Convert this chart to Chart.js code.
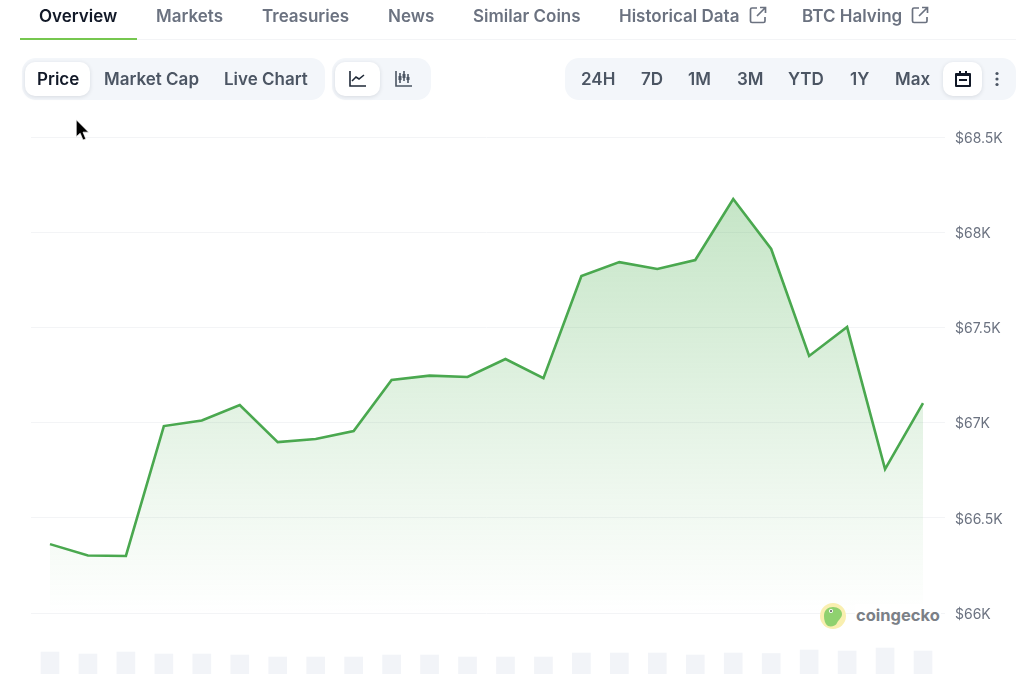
<!DOCTYPE html>
<html>
<head>
<meta charset="utf-8">
<script src="https://cdn.jsdelivr.net/npm/chart.js@4"></script>
<style>
  html, body { margin: 0; padding: 0; background: #fff; overflow: hidden; }
  body { width: 1024px; height: 674px; position: relative; font-family: Inter, "Noto Sans", sans-serif; -webkit-font-smoothing: antialiased; }
  #barChart { position: absolute; left: 0; top: 0; }
  .abs { position: absolute; white-space: nowrap; }
  .tab { top: 5px; font-size: 17px; line-height: 22px; font-weight: 600; color: #6b7280; }
  .tab.on { color: #111827; }
  .pill { background: #f3f6fa; border-radius: 14px; top: 58px; height: 42px; }
  .btn { background: #fff; border-radius: 10px; top: 62px; height: 34px; box-shadow: 0 1px 4px rgba(17,24,39,.12); }
  .lbl { top: 68px; font-size: 17px; line-height: 22px; font-weight: 600; color: #4b5563; }
  .lbl.on { color: #111827; }
  #mark { left: 855px; top: 604px; font-size: 16.5px; line-height: 22px; font-weight: 700; color: #7b8087; background: #fff; padding: 0 1px; }
</style>
</head>
<body>
<canvas id="barChart" width="1024" height="674"></canvas>

<div class="abs" style="left:20px;right:8px;top:39px;height:1px;background:#f3f4f6"></div>
<div class="abs" style="left:20px;width:117px;top:38px;height:2px;background:#76c74f"></div>
<div id="tabs"></div>

<div class="abs pill" style="left:22px;width:303px"></div>
<div class="abs btn" style="left:25px;width:65px"></div>
<div class="abs pill" style="left:332px;width:99px"></div>
<div class="abs btn" style="left:335px;width:45px"></div>
<div class="abs pill" style="left:565px;width:451px"></div>
<div class="abs btn" style="left:943px;width:39px"></div>
<div id="labels"></div>

<!-- line / candle / calendar / more icons -->
<svg class="abs" style="left:348px;top:70px" width="20" height="18" fill="none" stroke="#1f2937" stroke-width="1.6"><path d="M2 1v15h16M4 11l4-4 3 2 5-4"/></svg>
<svg class="abs" style="left:394px;top:70px" width="20" height="18" fill="none" stroke="#4b5563" stroke-width="1.6"><path d="M2 1v15h16M6 3v10M10 1v10M14 4v9"/><path stroke-width="3" d="M6 6v4M10 4v4M14 7v3"/></svg>
<svg class="abs" style="left:954px;top:69px" width="18" height="20"><path fill="#111827" d="M2 4h3V2h2v2h4V2h2v2h3a1 1 0 0 1 1 1v12a1 1 0 0 1-1 1H2a1 1 0 0 1-1-1V5a1 1 0 0 1 1-1z"/><rect x="3" y="7" width="12" height="9" fill="#fff"/><rect x="5" y="10" width="8" height="2" fill="#111827"/></svg>
<svg class="abs" style="left:994px;top:71px" width="6" height="16" fill="#4b5563"><circle cx="3" cy="2.5" r="1.6"/><circle cx="3" cy="8" r="1.6"/><circle cx="3" cy="13.5" r="1.6"/></svg>
<svg class="abs" style="left:749px;top:6px" width="18" height="18" fill="none" stroke="#6b7280" stroke-width="1.7"><path d="M8 2H3a1.500 1.500 0 0 0-1.500 1.500V15A1.500 1.500 0 0 0 3 16.500h11.500A1.500 1.500 0 0 0 16 15v-4M11 1.500h5.500V7M16.500 1.500L8 10"/></svg>
<svg class="abs" style="left:911px;top:6px" width="18" height="18" fill="none" stroke="#6b7280" stroke-width="1.7"><path d="M8 2H3a1.500 1.500 0 0 0-1.500 1.500V15A1.500 1.500 0 0 0 3 16.500h11.500A1.500 1.500 0 0 0 16 15v-4M11 1.500h5.500V7M16.500 1.500L8 10"/></svg>

<!-- cursor -->
<svg class="abs" style="left:74px;top:118px" width="18" height="26" viewBox="0 0 16 22"><path fill="#000" stroke="#fff" stroke-width=".6" d="M2 1l0 15 3.500-3 2.500 6 2.500-1-2.500-6 5 0z"/></svg>

<!-- watermark -->
<svg class="abs" style="left:819px;top:602px" width="28" height="28"><circle cx="14" cy="14" r="13" fill="#f9efb0"/><path fill="#8fd16f" d="M5 14c0-6 4-9 9-9 5 0 9 3 9 7 0 4-4 6-5 9-1 3-6 4-9 3-3-2-4-6-4-10z"/><circle cx="12" cy="9" r="2" fill="#fff"/><circle cx="12" cy="9" r="1" fill="#555"/></svg>
<div id="mark" class="abs">coingecko</div>

<script>
const tabNames = ['Overview', 'Markets', 'Treasuries', 'News', 'Similar Coins', 'Historical Data', 'BTC Halving'];
const tabLefts = [39, 156, 262, 388, 473, 619, 802];
const pillNames = ['Price', 'Market Cap', 'Live Chart', '24H', '7D', '1M', '3M', 'YTD', '1Y', 'Max'];
const pillLefts = [37, 104, 224, 581, 641, 688, 737, 788, 850, 895];

// hourly points
const hours = ['1', '2', '3', '4', '5', '6', '7', '8', '9', '10', '11', '12', '13', '14', '15', '16', '17', '18', '19', '20', '21', '22', '23', '24'];
const prices = [66362, 66302, 66300, 66982, 67011, 67092, 66898, 66914, 66956, 67224, 67247, 67240, 67334, 67234, 67770, 67843, 67807, 67854, 68174, 67912, 67350, 67502, 66756, 67103];
const volumes = [22, 20, 22, 20, 20, 19, 17, 17, 17, 19, 19, 17, 17, 17, 21, 21, 21, 19, 21, 20.5, 24, 23, 26, 23];
const priceTicks = [66000, 66500, 67000, 67500, 68000, 68500];

function addLabels(rootId, names, lefts, cls) {
  const root = document.getElementById(rootId);
  names.forEach((name, i) => {
    const el = document.createElement('div');
    el.className = 'abs ' + cls + (i === 0 ? ' on' : '');
    el.style.left = lefts[i] + 'px';
    el.textContent = name;
    root.appendChild(el);
  });
}
addLabels('tabs', tabNames, tabLefts, 'tab');
addLabels('labels', pillNames, pillLefts, 'lbl');

// tick labels sit slightly below their grid lines in the original
const priceLabels = {
  id: 'priceLabels',
  afterDraw(chart) {
    const { ctx, scales } = chart;
    ctx.save();
    ctx.font = '14px Inter';
    ctx.fillStyle = '#6b7280';
    ctx.textAlign = 'left';
    ctx.textBaseline = 'middle';
    scales.y.ticks.forEach(t => {
      ctx.fillText('$' + (t.value / 1000) + 'K', scales.y.left + 13, scales.y.getPixelForValue(t.value) + 1.5);
    });
    ctx.restore();
  }
};

const ctx = document.getElementById('barChart').getContext('2d');
new Chart(ctx, {
  data: {
    labels: hours,
    datasets: [
      {
        type: 'line',
        data: prices,
        yAxisID: 'y',
        borderColor: '#4aa84f',
        borderWidth: 2.6,
        pointRadius: 0,
        tension: 0,
        fill: { value: priceTicks[0] },
        backgroundColor(c) {
          const { chart } = c;
          if (!chart.chartArea) return 'rgba(76,175,80,0.3)';
          const y = chart.scales.y;
          const g = chart.ctx.createLinearGradient(0, y.getPixelForValue(Math.max(...prices)), 0, y.getPixelForValue(priceTicks[0]));
          g.addColorStop(0, 'rgba(76,175,80,0.32)');
          g.addColorStop(1, 'rgba(76,175,80,0)');
          return g;
        },
        order: 1
      },
      {
        type: 'bar',
        data: volumes,
        yAxisID: 'vol',
        backgroundColor: '#f2f4f8',
        barThickness: 18,
        order: 2
      }
    ]
  },
  plugins: [priceLabels],
  options: {
    responsive: false,
    animation: false,
    layout: { padding: { left: 31, top: 137, right: 0, bottom: 0 } },
    plugins: { legend: { display: false }, tooltip: { enabled: false } },
    scales: {
      x: { display: false, offset: true },
      y: {
        position: 'right',
        min: 65680,
        max: 68500,
        afterBuildTicks(scale) { scale.ticks = priceTicks.map(value => ({ value })); },
        afterFit(scale) { scale.width = 82; },
        border: { display: false },
        grid: { color: '#f3f4f6', lineWidth: 1, tickLength: 3, tickColor: '#f3f4f6' },
        ticks: { display: false }
      },
      vol: { display: false, min: 0, max: 537 }
    }
  }
});
</script>
</body>
</html>
